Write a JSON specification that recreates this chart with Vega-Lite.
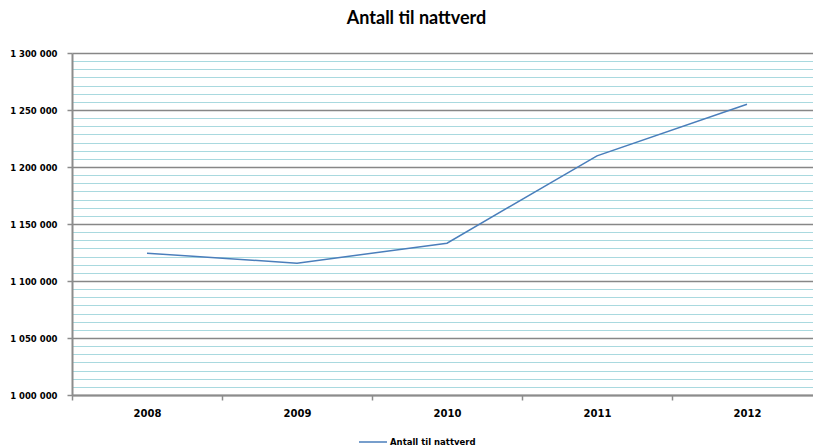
{
  "$schema": "https://vega.github.io/schema/vega-lite/v6.json",
  "width": 741,
  "height": 342,
  "autosize": "none",
  "padding": {"left": 72, "top": 53, "right": 0, "bottom": 52},
  "background": "white",
  "config": {"view": {"stroke": null}, "font": "DejaVu Sans"},
  "title": {
    "text": "Antall til nattverd",
    "font": "Lato",
    "fontSize": 18,
    "fontWeight": "bold",
    "color": "#000000",
    "anchor": "middle",
    "dx": -26,
    "offset": 21
  },
  "data": {
    "values": [
      {"year": 2008, "value": 1124400},
      {"year": 2009, "value": 1115600},
      {"year": 2010, "value": 1133200},
      {"year": 2011, "value": 1209800},
      {"year": 2012, "value": 1255000}
    ]
  },
  "encoding": {
    "x": {
      "field": "year",
      "type": "quantitative",
      "scale": {"domain": [2007.5, 2012.44], "nice": false, "zero": false},
      "axis": {
        "values": [2007.5, 2008.5, 2009.5, 2010.5, 2011.5],
        "labelExpr": "format(datum.value + 0.5, 'd')",
        "labelOffset": 75,
        "labelFlush": false,
        "labelOverlap": false,
        "labelBound": false,
        "tickSize": 5,
        "tickColor": "#8C8C8C",
        "tickWidth": 1.5,
        "domainColor": "#8C8C8C",
        "domainWidth": 2,
        "grid": false,
        "labelFont": "DejaVu Sans",
        "labelFontSize": 10,
        "labelFontWeight": "bold",
        "labelColor": "#000000",
        "labelPadding": 8,
        "title": null
      }
    }
  },
  "layer": [
    {
      "mark": {"type": "line", "strokeOpacity": 0},
      "encoding": {
        "y": {
          "field": "value",
          "type": "quantitative",
          "scale": {"domain": [1000000, 1300000], "nice": false, "zero": false},
          "axis": {
            "orient": "right",
            "values": [1007143, 1014286, 1021429, 1028571, 1035714, 1042857, 1057143, 1064286, 1071429, 1078571, 1085714, 1092857, 1107143, 1114286, 1121429, 1128571, 1135714, 1142857, 1157143, 1164286, 1171429, 1178571, 1185714, 1192857, 1207143, 1214286, 1221429, 1228571, 1235714, 1242857, 1257143, 1264286, 1271429, 1278571, 1285714, 1292857],
            "grid": true,
            "gridColor": "#A9D9DF",
            "gridWidth": 1.2,
            "labels": false,
            "ticks": false,
            "domain": false,
            "title": null
          }
        }
      }
    },
    {
      "mark": {"type": "line", "strokeWidth": 1.5},
      "encoding": {
        "y": {
          "field": "value",
          "type": "quantitative",
          "scale": {"domain": [1000000, 1300000], "nice": false, "zero": false},
          "axis": {
            "orient": "left",
            "values": [1000000, 1050000, 1100000, 1150000, 1200000, 1250000, 1300000],
            "labelExpr": "replace(format(datum.value, ','), /,/g, ' ')",
            "grid": true,
            "gridColor": "#878787",
            "gridWidth": 1.5,
            "tickSize": 5,
            "tickColor": "#8C8C8C",
            "tickWidth": 1.5,
            "domainColor": "#8C8C8C",
            "domainWidth": 2,
            "labelFont": "DejaVu Sans",
            "labelFontSize": 8.5,
            "labelFontWeight": "bold",
            "labelColor": "#000000",
            "labelPadding": 10,
            "title": null
          }
        },
        "color": {
          "datum": "Antall til nattverd",
          "scale": {"range": ["#4A7EBB"]},
          "legend": {
            "orient": "none",
            "legendX": 286,
            "legendY": 374,
            "direction": "horizontal",
            "title": null,
            "symbolType": "stroke",
            "symbolSize": 784,
            "symbolStrokeWidth": 1.5,
            "labelFont": "DejaVu Sans",
            "labelFontSize": 8.5,
            "labelFontWeight": "bold",
            "labelColor": "#000000",
            "labelOffset": 2,
            "padding": 0
          }
        }
      }
    }
  ],
  "resolve": {"axis": {"y": "independent"}}
}
